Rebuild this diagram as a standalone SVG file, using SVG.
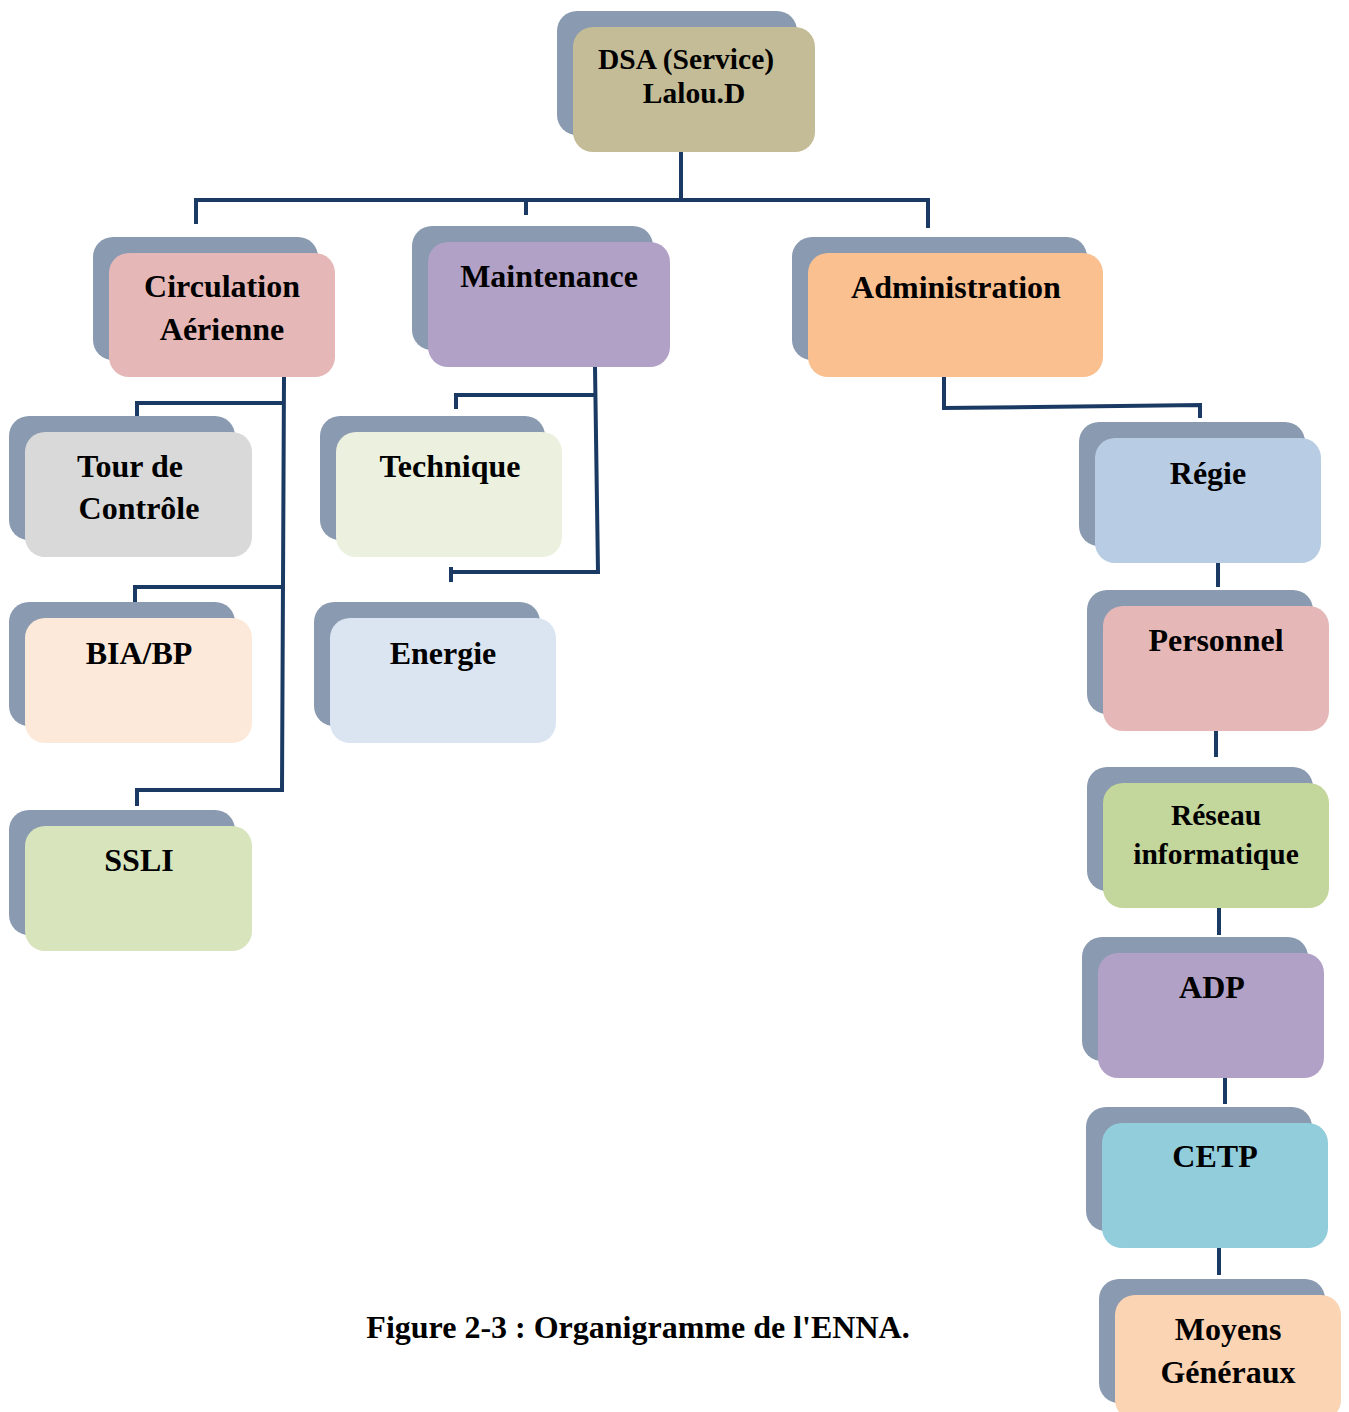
<svg xmlns="http://www.w3.org/2000/svg" width="1349" height="1412" viewBox="0 0 1349 1412">
<style>
.sh{fill:#8A9AB0}
.t{font-family:"Liberation Serif","Times New Roman",serif;font-weight:bold;font-size:32px;fill:#000;text-anchor:middle}
.s{font-size:29.5px}
.c{fill:none;stroke:#1B3A63;stroke-width:4}
</style>
<rect width="1349" height="1412" fill="#fff"/>
<g id="connectors">
<path class="c" d="M681 152V200M196 224V200H928V228M526 200V215"/>
<path class="c" d="M284 377L282 790H137V806M137 416V403H284M135 602V587H282"/>
<path class="c" d="M595 367L598 572H451M451 567V582M456 409V395H595"/>
<path class="c" d="M944 377V408L1200 405V418"/>
<path class="c" d="M1218 563V587M1216 731V757M1219 908V935M1225 1078V1104M1219 1248V1275"/>
</g>
<g id="dsa"><rect class="sh" x="557" y="11" width="240" height="124" rx="20"/><rect x="573" y="27" width="242" height="125" rx="20" fill="#C4BC97"/><text class="t s" x="686" y="69">DSA (Service)</text><text class="t s" x="694" y="103">Lalou.D</text></g>
<g id="circulation"><rect class="sh" x="93" y="237" width="225" height="123" rx="20"/><rect x="109" y="253" width="226" height="124" rx="20" fill="#E5B8B7"/><text class="t" x="222" y="297">Circulation</text><text class="t" x="222" y="340">Aérienne</text></g>
<g id="maintenance"><rect class="sh" x="412" y="226" width="241" height="124" rx="20"/><rect x="428" y="242" width="242" height="125" rx="20" fill="#B2A1C7"/><text class="t" x="549" y="287">Maintenance</text></g>
<g id="administration"><rect class="sh" x="792" y="237" width="295" height="123" rx="20"/><rect x="808" y="253" width="295" height="124" rx="20" fill="#FAC090"/><text class="t" x="956" y="298">Administration</text></g>
<g id="tour"><rect class="sh" x="9" y="416" width="226" height="124" rx="20"/><rect x="25" y="432" width="227" height="125" rx="20" fill="#D9D9D9"/><text class="t" x="130" y="477">Tour de</text><text class="t" x="139" y="519">Contrôle</text></g>
<g id="bia"><rect class="sh" x="9" y="602" width="226" height="124" rx="20"/><rect x="25" y="618" width="227" height="125" rx="20" fill="#FDE9D9"/><text class="t" x="139" y="664">BIA/BP</text></g>
<g id="ssli"><rect class="sh" x="9" y="810" width="226" height="125" rx="20"/><rect x="25" y="826" width="227" height="125" rx="20" fill="#D7E4BC"/><text class="t" x="139" y="871">SSLI</text></g>
<g id="technique"><rect class="sh" x="320" y="416" width="225" height="124" rx="20"/><rect x="336" y="432" width="226" height="125" rx="20" fill="#EBF1DE"/><text class="t" x="450" y="477">Technique</text></g>
<g id="energie"><rect class="sh" x="314" y="602" width="226" height="124" rx="20"/><rect x="330" y="618" width="226" height="125" rx="20" fill="#DBE5F1"/><text class="t" x="443" y="664">Energie</text></g>
<g id="regie"><rect class="sh" x="1079" y="422" width="226" height="124" rx="20"/><rect x="1095" y="438" width="226" height="125" rx="20" fill="#B8CCE4"/><text class="t" x="1208" y="484">Régie</text></g>
<g id="personnel"><rect class="sh" x="1087" y="590" width="226" height="124" rx="20"/><rect x="1103" y="606" width="226" height="125" rx="20" fill="#E5B8B7"/><text class="t" x="1216" y="651">Personnel</text></g>
<g id="reseau"><rect class="sh" x="1087" y="767" width="226" height="124" rx="20"/><rect x="1103" y="783" width="226" height="125" rx="20" fill="#C3D69B"/><text class="t s" x="1216" y="825">Réseau</text><text class="t s" x="1216" y="864">informatique</text></g>
<g id="adp"><rect class="sh" x="1082" y="937" width="226" height="124" rx="20"/><rect x="1098" y="953" width="226" height="125" rx="20" fill="#B2A1C7"/><text class="t" x="1212" y="998">ADP</text></g>
<g id="cetp"><rect class="sh" x="1086" y="1107" width="226" height="124" rx="20"/><rect x="1102" y="1123" width="226" height="125" rx="20" fill="#92CDDC"/><text class="t" x="1215" y="1167">CETP</text></g>
<g id="moyens"><rect class="sh" x="1099" y="1279" width="226" height="124" rx="20"/><rect x="1115" y="1295" width="226" height="125" rx="20" fill="#FBD4B4"/><text class="t" x="1228" y="1340">Moyens</text><text class="t" x="1228" y="1383">Généraux</text></g>
<text class="t" x="638" y="1338">Figure 2-3 : Organigramme de l'ENNA.</text>
</svg>
